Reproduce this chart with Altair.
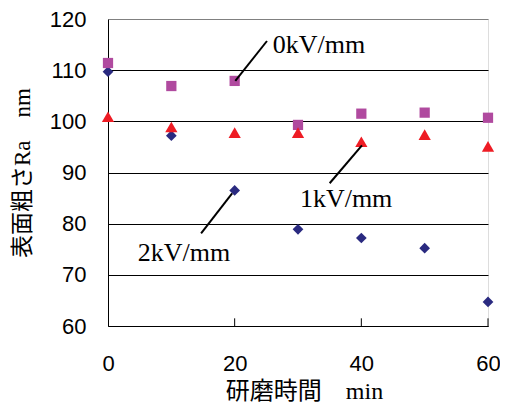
import altair as alt
import pandas as pd

# ---- data ----
times = [0, 10, 20, 30, 40, 50, 60]
ra_0kv = [111.4, 106.9, 107.9, 99.3, 101.5, 101.7, 100.7]
ra_1kv = [100.9, 98.9, 97.8, 97.8, 96.0, 97.4, 95.1]
ra_2kv = [109.7, 97.2, 86.5, 78.9, 77.2, 75.2, 64.7]

x_ticks = [0, 20, 40, 60]
y_ticks = [60, 70, 80, 90, 100, 110, 120]

labels = ["0kV/mm", "1kV/mm", "2kV/mm"]
label_x = [26.0, 30.3, 4.7]
label_y = [114.9, 84.9, 74.2]
lead_x1 = [20.1, 40.1, 19.6]
lead_y1 = [107.9, 95.3, 85.9]
lead_x2 = [25.1, 35.0, 14.7]
lead_y2 = [115.7, 87.9, 78.1]

inner_ticks = [20, 40, 60]

CJK = "'Liberation Serif', 'Noto Sans CJK JP'"

df0 = pd.DataFrame({"t": times, "ra": ra_0kv})
df1 = pd.DataFrame({"t": times, "ra": ra_1kv})
df2 = pd.DataFrame({"t": times, "ra": ra_2kv})
lab = pd.DataFrame({"label": labels, "x": label_x, "y": label_y})
lead = pd.DataFrame({"x1": lead_x1, "y1": lead_y1, "x2": lead_x2, "y2": lead_y2})
tk = pd.DataFrame({"t": inner_ticks})

xs = alt.Scale(domain=[0, 60], nice=False)
ys = alt.Scale(domain=[60, 120], nice=False)

x_axis = alt.Axis(
    values=x_ticks, grid=False, ticks=False, domainColor="black",
    labelFont="Liberation Sans", labelFontSize=22, labelColor="black",
    labelPadding=27, labelFlush=False,
    title="研磨時間\u3000min", titleFont=CJK, titleFontSize=24,
    titleFontWeight="normal", titleColor="black", titlePadding=5,
    titleX=196,
)
y_axis = alt.Axis(
    values=y_ticks, grid=True, ticks=False, domainColor="black",
    gridColor={"condition": {"test": "datum.value === 120", "value": "#808080"}, "value": "black"},
    gridOpacity=1,
    labelFont="Liberation Sans", labelFontSize=22, labelColor="black",
    labelPadding=22, labelFlush=False,
    title="表面粗さRa\u3000nm", titleFont=CJK, titleFontSize=23,
    titleFontWeight="normal", titleColor="black", titlePadding=15,
)

base_x = alt.X("t:Q", scale=xs, axis=x_axis)
base_y = alt.Y("ra:Q", scale=ys, axis=y_axis)

diam = alt.Chart(df2).mark_point(shape="diamond", filled=True, size=115, color="#2A2A80", opacity=1).encode(x=base_x, y=base_y)
sq = alt.Chart(df0).mark_point(shape="square", filled=True, size=105, color="#B04A9F", opacity=1).encode(x="t:Q", y="ra:Q")
tri = alt.Chart(df1).mark_point(shape="triangle-up", filled=True, size=150, color="#EE1C24", opacity=1).encode(x="t:Q", y="ra:Q")

ticks = alt.Chart(tk).mark_rule(color="black", strokeWidth=1).encode(
    x="t:Q", y=alt.datum(60), y2=alt.datum(61.5)
)

leaders = alt.Chart(lead).mark_rule(color="black", strokeWidth=2).encode(
    x="x1:Q", y="y1:Q", x2="x2:Q", y2="y2:Q"
)

texts = alt.Chart(lab).mark_text(
    font="Liberation Serif", fontSize=26, align="left", baseline="middle", color="black"
).encode(x="x:Q", y="y:Q", text="label:N")

chart = alt.layer(diam, ticks, sq, tri, leaders, texts).properties(
    width=380, height=307,
    autosize=alt.AutoSizeParams(type="none"),
    padding={"left": 100, "top": 11, "right": 12, "bottom": 82},
).configure_view(stroke="#808080", strokeWidth=1).configure(background="white")

chart.save("out.html", embed_options={"renderer": "svg", "actions": False})
